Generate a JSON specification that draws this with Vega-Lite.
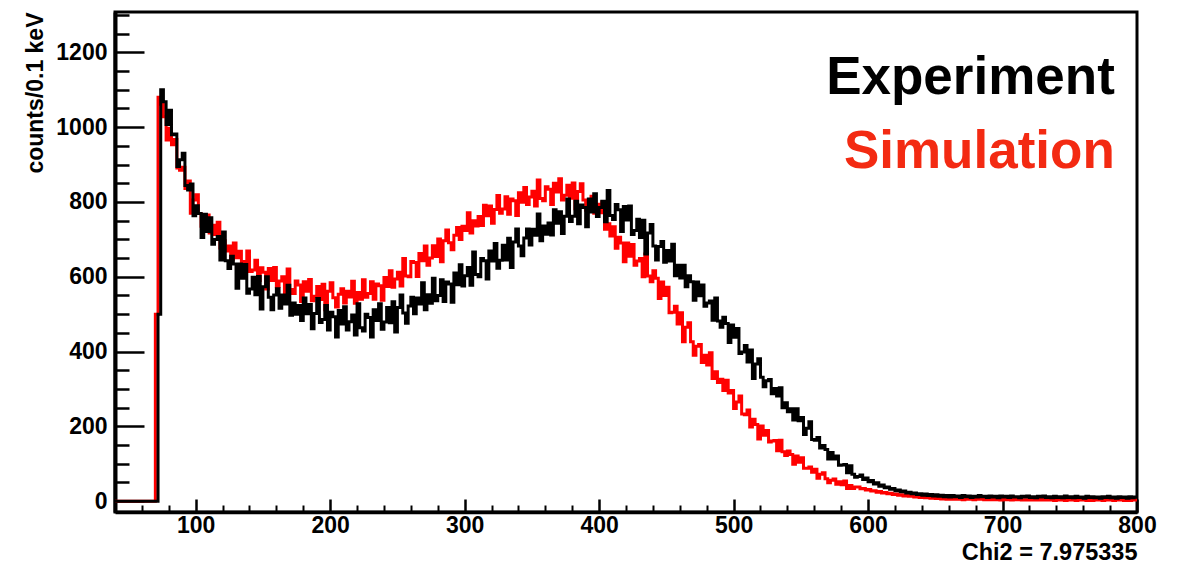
{
"$schema":"https://vega.github.io/schema/vega-lite/v6.json",
"width":1022,"height":500,
"autosize":{"type":"none"},
"padding":{"left":115,"top":12,"right":44,"bottom":54},
"background":"white",
"config":{"view":{"stroke":"black","strokeWidth":3},"font":"Liberation Sans"},
"data":{"values":[
{"x":40,"e":0,"s":0},{"x":70,"e":0,"s":500},{"x":72,"e":500,"s":1080},{"x":74,"e":1100,"s":1061},{"x":76,"e":1068,"s":1028},{"x":78,"e":1007,"s":966},{"x":80,"e":1045,"s":997},{"x":82,"e":980,"s":953},{"x":84,"e":982,"s":967},{"x":86,"e":895,"s":891},{"x":88,"e":913,"s":885},{"x":90,"e":930,"s":893},{"x":92,"e":844,"s":836},{"x":94,"e":832,"s":856},{"x":96,"e":848,"s":770},{"x":98,"e":763,"s":805},
{"x":100,"e":790,"s":819},{"x":102,"e":769,"s":769},{"x":104,"e":705,"s":735},{"x":106,"e":767,"s":759},{"x":108,"e":721,"s":765},{"x":110,"e":758,"s":717},{"x":112,"e":687,"s":738},{"x":114,"e":700,"s":713},{"x":116,"e":708,"s":746},{"x":118,"e":645,"s":677},{"x":120,"e":720,"s":696},{"x":122,"e":643,"s":669},{"x":124,"e":622,"s":682},{"x":126,"e":655,"s":647},{"x":128,"e":634,"s":690},{"x":130,"e":569,"s":651},{"x":132,"e":634,"s":668},{"x":134,"e":596,"s":612},{"x":136,"e":633,"s":641},{"x":138,"e":556,"s":669},{"x":140,"e":567,"s":614},{"x":142,"e":599,"s":618},{"x":144,"e":552,"s":644},{"x":146,"e":601,"s":590},{"x":148,"e":514,"s":624},
{"x":150,"e":573,"s":612},{"x":152,"e":600,"s":567},{"x":154,"e":545,"s":622},{"x":156,"e":512,"s":590},{"x":158,"e":551,"s":625},{"x":160,"e":568,"s":574},{"x":162,"e":516,"s":589},{"x":164,"e":551,"s":600},{"x":166,"e":527,"s":556},{"x":168,"e":577,"s":621},{"x":170,"e":497,"s":566},{"x":172,"e":530,"s":555},{"x":174,"e":500,"s":589},{"x":176,"e":523,"s":578},{"x":178,"e":483,"s":534},{"x":180,"e":543,"s":587},{"x":182,"e":501,"s":561},{"x":184,"e":526,"s":593},{"x":186,"e":461,"s":536},{"x":188,"e":502,"s":548},{"x":190,"e":542,"s":574},{"x":192,"e":478,"s":539},{"x":194,"e":486,"s":580},{"x":196,"e":523,"s":512},{"x":198,"e":458,"s":561},
{"x":200,"e":505,"s":584},{"x":202,"e":493,"s":544},{"x":204,"e":439,"s":519},{"x":206,"e":510,"s":553},{"x":208,"e":474,"s":568},{"x":210,"e":520,"s":530},{"x":212,"e":458,"s":561},{"x":214,"e":480,"s":546},{"x":216,"e":498,"s":588},{"x":218,"e":444,"s":529},{"x":220,"e":528,"s":558},{"x":222,"e":464,"s":540},{"x":224,"e":455,"s":592},{"x":226,"e":500,"s":545},{"x":228,"e":491,"s":555},{"x":230,"e":439,"s":587},{"x":232,"e":512,"s":540},{"x":234,"e":483,"s":581},{"x":236,"e":528,"s":576},{"x":238,"e":460,"s":537},{"x":240,"e":479,"s":598},{"x":242,"e":518,"s":574},{"x":244,"e":477,"s":616},{"x":246,"e":533,"s":572},{"x":248,"e":452,"s":594},
{"x":250,"e":518,"s":612},{"x":252,"e":551,"s":575},{"x":254,"e":503,"s":649},{"x":256,"e":476,"s":602},{"x":258,"e":522,"s":600},{"x":260,"e":545,"s":641},{"x":262,"e":501,"s":638},{"x":264,"e":543,"s":601},{"x":266,"e":527,"s":662},{"x":268,"e":584,"s":643},{"x":270,"e":512,"s":682},{"x":272,"e":552,"s":631},{"x":274,"e":529,"s":650},{"x":276,"e":596,"s":683},{"x":278,"e":536,"s":654},{"x":280,"e":550,"s":701},{"x":282,"e":592,"s":640},{"x":284,"e":534,"s":696},{"x":286,"e":586,"s":725},{"x":288,"e":581,"s":691},{"x":290,"e":532,"s":672},{"x":292,"e":610,"s":711},{"x":294,"e":579,"s":732},{"x":296,"e":632,"s":700},{"x":298,"e":575,"s":735},
{"x":300,"e":603,"s":724},{"x":302,"e":625,"s":771},{"x":304,"e":577,"s":717},{"x":306,"e":666,"s":750},{"x":308,"e":606,"s":736},{"x":310,"e":600,"s":761},{"x":312,"e":649,"s":737},{"x":314,"e":643,"s":791},{"x":316,"e":594,"s":763},{"x":318,"e":669,"s":789},{"x":320,"e":642,"s":743},{"x":322,"e":689,"s":780},{"x":324,"e":623,"s":817},{"x":326,"e":644,"s":770},{"x":328,"e":684,"s":781},{"x":330,"e":645,"s":814},{"x":332,"e":703,"s":767},{"x":334,"e":625,"s":808},{"x":336,"e":693,"s":803},{"x":338,"e":728,"s":764},{"x":340,"e":682,"s":825},{"x":342,"e":656,"s":799},{"x":344,"e":704,"s":839},{"x":346,"e":728,"s":793},{"x":348,"e":685,"s":813},
{"x":350,"e":727,"s":829},{"x":352,"e":711,"s":789},{"x":354,"e":768,"s":859},{"x":356,"e":696,"s":809},{"x":358,"e":736,"s":803},{"x":360,"e":714,"s":841},{"x":362,"e":744,"s":834},{"x":364,"e":712,"s":793},{"x":366,"e":779,"s":850},{"x":368,"e":743,"s":827},{"x":370,"e":774,"s":862},{"x":372,"e":716,"s":805},{"x":374,"e":762,"s":818},{"x":376,"e":808,"s":845},{"x":378,"e":748,"s":810},{"x":380,"e":762,"s":851},{"x":382,"e":802,"s":782},{"x":384,"e":742,"s":828},{"x":386,"e":792,"s":849},{"x":388,"e":785,"s":805},{"x":390,"e":734,"s":778},{"x":392,"e":808,"s":805},{"x":394,"e":773,"s":815},{"x":396,"e":822,"s":770},{"x":398,"e":761,"s":794},
{"x":400,"e":785,"s":771},{"x":402,"e":802,"s":800},{"x":404,"e":747,"s":727},{"x":406,"e":831,"s":742},{"x":408,"e":764,"s":709},{"x":410,"e":753,"s":734},{"x":412,"e":793,"s":676},{"x":414,"e":779,"s":706},{"x":416,"e":721,"s":690},{"x":418,"e":788,"s":640},{"x":420,"e":752,"s":690},{"x":422,"e":789,"s":655},{"x":424,"e":713,"s":686},{"x":426,"e":724,"s":631},{"x":428,"e":754,"s":642},{"x":430,"e":705,"s":649},{"x":432,"e":751,"s":600},{"x":434,"e":661,"s":661},{"x":436,"e":717,"s":602},{"x":438,"e":740,"s":587},{"x":440,"e":682,"s":616},{"x":442,"e":645,"s":596},{"x":444,"e":681,"s":542},{"x":446,"e":694,"s":586},{"x":448,"e":639,"s":550},
{"x":450,"e":670,"s":572},{"x":452,"e":642,"s":504},{"x":454,"e":687,"s":505},{"x":456,"e":603,"s":521},{"x":458,"e":631,"s":474},{"x":460,"e":597,"s":504},{"x":462,"e":631,"s":426},{"x":464,"e":573,"s":465},{"x":466,"e":603,"s":477},{"x":468,"e":587,"s":426},{"x":470,"e":537,"s":390},{"x":472,"e":586,"s":414},{"x":474,"e":549,"s":419},{"x":476,"e":578,"s":371},{"x":478,"e":521,"s":390},{"x":480,"e":530,"s":364},{"x":482,"e":535,"s":397},{"x":484,"e":484,"s":328},{"x":486,"e":543,"s":346},{"x":488,"e":482,"s":317},{"x":490,"e":465,"s":326},{"x":492,"e":492,"s":296},{"x":494,"e":475,"s":323},{"x":496,"e":424,"s":289},{"x":498,"e":471,"s":296},
{"x":500,"e":438,"s":248},{"x":502,"e":462,"s":265},{"x":504,"e":395,"s":281},{"x":506,"e":399,"s":233},{"x":508,"e":416,"s":231},{"x":510,"e":372,"s":244},{"x":512,"e":404,"s":198},{"x":514,"e":328,"s":219},{"x":516,"e":367,"s":205},{"x":518,"e":381,"s":166},{"x":520,"e":331,"s":201},{"x":522,"e":306,"s":176},{"x":524,"e":322,"s":189},{"x":526,"e":325,"s":158},{"x":528,"e":287,"s":161},{"x":530,"e":301,"s":162},{"x":532,"e":281,"s":135},{"x":534,"e":303,"s":163},{"x":536,"e":250,"s":132},{"x":538,"e":263,"s":122},{"x":540,"e":239,"s":134},{"x":542,"e":247,"s":125},{"x":544,"e":217,"s":99},{"x":546,"e":247,"s":121},{"x":548,"e":215,"s":104},
{"x":550,"e":224,"s":116},{"x":552,"e":178,"s":88},{"x":554,"e":195,"s":88},{"x":556,"e":212,"s":91},{"x":558,"e":165,"s":77},{"x":560,"e":163,"s":85},{"x":562,"e":170,"s":61},{"x":564,"e":142,"s":72},{"x":566,"e":149,"s":76},{"x":568,"e":138,"s":60},{"x":570,"e":113,"s":49},{"x":572,"e":130,"s":56},{"x":574,"e":113,"s":59},{"x":576,"e":121,"s":45},{"x":578,"e":96,"s":52},{"x":580,"e":97,"s":44},{"x":582,"e":98,"s":54},{"x":584,"e":76,"s":34},{"x":586,"e":95,"s":42},{"x":588,"e":72,"s":34},{"x":590,"e":64,"s":38},{"x":592,"e":66,"s":38},{"x":594,"e":70,"s":33},{"x":596,"e":58,"s":34},{"x":598,"e":62,"s":30},
{"x":600,"e":52,"s":31},{"x":602,"e":55,"s":27},{"x":604,"e":46,"s":28},{"x":606,"e":49,"s":24},{"x":608,"e":40,"s":26},{"x":610,"e":43,"s":22},{"x":612,"e":36,"s":23},{"x":614,"e":38,"s":20},{"x":616,"e":32,"s":21},{"x":618,"e":34,"s":18},{"x":620,"e":28,"s":19},{"x":622,"e":30,"s":16},{"x":624,"e":25,"s":17},{"x":626,"e":27,"s":14},{"x":628,"e":22,"s":15},{"x":630,"e":24,"s":13},{"x":632,"e":20,"s":14},{"x":634,"e":22,"s":11},{"x":636,"e":18,"s":12},{"x":638,"e":20,"s":10},{"x":640,"e":16,"s":11},{"x":642,"e":19,"s":9},{"x":644,"e":15,"s":10},{"x":646,"e":18,"s":8},{"x":648,"e":14,"s":9},
{"x":650,"e":17,"s":7},{"x":652,"e":13,"s":8},{"x":654,"e":16,"s":6},{"x":656,"e":12,"s":7},{"x":658,"e":15,"s":5},{"x":660,"e":11,"s":7},{"x":662,"e":15,"s":5},{"x":664,"e":12,"s":6},{"x":666,"e":14,"s":5},{"x":668,"e":10,"s":7},{"x":670,"e":15,"s":4},{"x":672,"e":12,"s":6},{"x":674,"e":14,"s":5},{"x":676,"e":10,"s":6},{"x":678,"e":13,"s":4},{"x":680,"e":11,"s":6},{"x":682,"e":15,"s":5},{"x":684,"e":12,"s":6},{"x":686,"e":13,"s":4},{"x":688,"e":10,"s":5},{"x":690,"e":14,"s":4},{"x":692,"e":11,"s":6},{"x":694,"e":13,"s":4},{"x":696,"e":9,"s":5},{"x":698,"e":14,"s":3},
{"x":700,"e":11,"s":5},{"x":702,"e":13,"s":4},{"x":704,"e":10,"s":5},{"x":706,"e":14,"s":3},{"x":708,"e":11,"s":5},{"x":710,"e":12,"s":4},{"x":712,"e":9,"s":5},{"x":714,"e":13,"s":3},{"x":716,"e":11,"s":4},{"x":718,"e":14,"s":3},{"x":720,"e":10,"s":5},{"x":722,"e":12,"s":3},{"x":724,"e":9,"s":4},{"x":726,"e":13,"s":3},{"x":728,"e":11,"s":5},{"x":730,"e":14,"s":3},{"x":732,"e":10,"s":4},{"x":734,"e":12,"s":3},{"x":736,"e":9,"s":4},{"x":738,"e":13,"s":2},{"x":740,"e":10,"s":4},{"x":742,"e":12,"s":3},{"x":744,"e":9,"s":4},{"x":746,"e":14,"s":2},{"x":748,"e":10,"s":4},
{"x":750,"e":12,"s":3},{"x":752,"e":9,"s":4},{"x":754,"e":13,"s":2},{"x":756,"e":10,"s":4},{"x":758,"e":11,"s":3},{"x":760,"e":8,"s":4},{"x":762,"e":13,"s":2},{"x":764,"e":10,"s":3},{"x":766,"e":12,"s":2},{"x":768,"e":9,"s":4},{"x":770,"e":11,"s":3},{"x":772,"e":8,"s":3},{"x":774,"e":12,"s":2},{"x":776,"e":10,"s":4},{"x":778,"e":13,"s":3},{"x":780,"e":9,"s":3},{"x":782,"e":11,"s":2},{"x":784,"e":8,"s":4},{"x":786,"e":12,"s":3},{"x":788,"e":10,"s":3},{"x":790,"e":11,"s":2},{"x":792,"e":8,"s":3},{"x":794,"e":12,"s":2},{"x":796,"e":9,"s":3},{"x":798,"e":11,"s":3},{"x":800,"e":11,"s":3}
]},
"layer":[
{"mark":{"type":"line","interpolate":"step-after","color":"#ff0000","strokeWidth":3,"clip":true},
 "encoding":{
  "x":{"field":"x","type":"quantitative","scale":{"domain":[40,800],"nice":false,"zero":false},
   "axis":{"orient":"bottom","values":[60,80,120,140,160,180,220,240,260,280,320,340,360,380,420,440,460,480,520,540,560,580,620,640,660,680,720,740,760,780],"labels":false,"domain":false,"grid":false,"tickSize":-7,"tickWidth":2,"tickColor":"black","title":null}},
  "y":{"field":"s","type":"quantitative","scale":{"domain":[-29,1308],"nice":false,"zero":false},
   "axis":{"orient":"left","values":[50,100,150,250,300,350,450,500,550,650,700,750,850,900,950,1050,1100,1150,1250,1300],"labels":false,"domain":false,"grid":false,"tickSize":-14,"tickWidth":2.5,"tickColor":"black","title":null}}
 }},
{"mark":{"type":"line","interpolate":"step-after","color":"#000000","strokeWidth":3,"clip":true},
 "encoding":{
  "x":{"field":"x","type":"quantitative","scale":{"domain":[40,800],"nice":false,"zero":false},
   "axis":{"orient":"bottom","values":[100,200,300,400,500,600,700,800],"format":"d","grid":false,"tickSize":-13,"tickWidth":2.5,"tickColor":"black","domainColor":"black","domainWidth":3.5,"labelFont":"Liberation Sans","labelFontWeight":"bold","labelFontSize":23,"labelColor":"black","labelPadding":15,"labelFlush":false,"labelOverlap":false,"labelBound":false,"title":"Chi2 = 7.975335","titleAnchor":"end","titleFont":"Liberation Sans","titleFontSize":23.5,"titleFontWeight":"bold","titleColor":"black","titlePadding":3}},
  "y":{"field":"e","type":"quantitative","scale":{"domain":[-29,1308],"nice":false,"zero":false},
   "axis":{"orient":"left","values":[0,200,400,600,800,1000,1200],"format":"d","grid":false,"tickSize":-29,"tickWidth":2.5,"tickColor":"black","domainColor":"black","domainWidth":4,"labelFont":"Liberation Sans","labelFontWeight":"bold","labelFontSize":23,"labelColor":"black","labelPadding":37,"labelFlush":false,"labelOverlap":false,"labelBound":false,"title":"counts/0.1 keV","titleAnchor":"end","titleFont":"Liberation Sans","titleFontSize":23,"titleFontWeight":"bold","titleColor":"black","titlePadding":8}}
 }},
{"data":{"values":[{"label":"Experiment"}]},
 "mark":{"type":"text","align":"right","baseline":"alphabetic","font":"Liberation Sans","fontSize":53,"fontWeight":"bold","color":"#000000"},
 "encoding":{"text":{"field":"label"},
  "x":{"datum":783.5,"type":"quantitative","scale":{"domain":[40,800],"nice":false,"zero":false},"axis":null},
  "y":{"datum":1090,"type":"quantitative","scale":{"domain":[-29,1308],"nice":false,"zero":false},"axis":null}}},
{"data":{"values":[{"label":"Simulation"}]},
 "mark":{"type":"text","align":"right","baseline":"alphabetic","font":"Liberation Sans","fontSize":53,"fontWeight":"bold","color":"#f32a12"},
 "encoding":{"text":{"field":"label"},
  "x":{"datum":783.5,"type":"quantitative","scale":{"domain":[40,800],"nice":false,"zero":false},"axis":null},
  "y":{"datum":891,"type":"quantitative","scale":{"domain":[-29,1308],"nice":false,"zero":false},"axis":null}}}
],
"resolve":{"axis":{"x":"independent","y":"independent"}}
}
